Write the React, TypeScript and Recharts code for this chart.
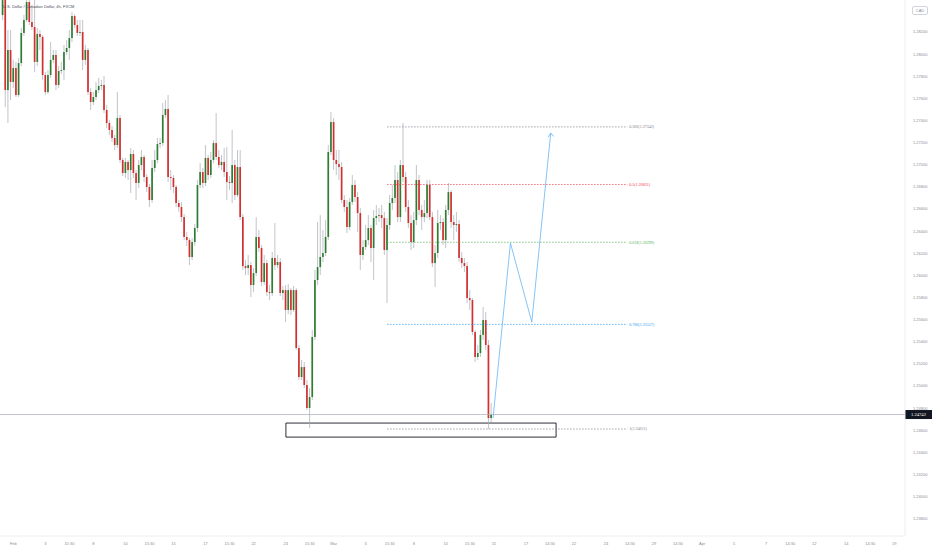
import { ComposedChart, Bar, Line, XAxis, YAxis, ReferenceLine, ReferenceArea } from 'recharts';

// USD/CAD 4h, FXCM, one entry per candle
const firstOpen = 1.28353;
const firstSlot = 1;

const closes = [
  1.28534, 1.27675, 1.28037, 1.27748, 1.27874, 1.27630, 1.27919, 1.28191, 1.28308, 1.28471,
  1.28290, 1.28245, 1.27929, 1.28182, 1.28155, 1.27811, 1.27657, 1.27811, 1.27947, 1.27992,
  1.27721, 1.27847, 1.27856, 1.28019, 1.28055, 1.28145, 1.28344, 1.28263, 1.28191, 1.28200,
  1.27947, 1.28037, 1.27657, 1.27567, 1.27612, 1.27675, 1.27712, 1.27721, 1.27495, 1.27377,
  1.27314, 1.27241, 1.27178, 1.27422, 1.27043, 1.26925, 1.27025, 1.26952, 1.27097, 1.26925,
  1.26835, 1.26997, 1.27070, 1.26889, 1.26799, 1.26681, 1.26970, 1.27043, 1.27187, 1.27196,
  1.27449, 1.27504, 1.26889, 1.26880, 1.26799, 1.26654, 1.26618, 1.26527, 1.26347, 1.26319,
  1.26166, 1.26301, 1.26428, 1.26817, 1.26934, 1.26835, 1.27061, 1.26907, 1.27043, 1.27196,
  1.27070, 1.26997, 1.27025, 1.26934, 1.26844, 1.26835, 1.26997, 1.26726, 1.26979, 1.26527,
  1.26084, 1.26066, 1.26093, 1.25913, 1.26021, 1.26347, 1.26247, 1.25940, 1.26111, 1.25849,
  1.25840, 1.26157, 1.26093, 1.26121, 1.25840, 1.25867, 1.25687, 1.25867, 1.25687, 1.25867,
  1.25343, 1.25081, 1.25171, 1.25009, 1.24801, 1.24900, 1.25443, 1.25958, 1.26075, 1.26166,
  1.26202, 1.26347, 1.27115, 1.27386, 1.27043, 1.27006, 1.26979, 1.26681, 1.26618, 1.26437,
  1.26663, 1.26817, 1.26708, 1.26563, 1.26184, 1.26256, 1.26319, 1.26428, 1.26247, 1.26518,
  1.26536, 1.26545, 1.26518, 1.26229, 1.26455, 1.26654, 1.26699, 1.26862, 1.26527, 1.26997,
  1.26889, 1.26618, 1.26473, 1.26301, 1.26500, 1.26862, 1.26591, 1.26527, 1.26563, 1.26817,
  1.26527, 1.26111, 1.26202, 1.26473, 1.26482, 1.26319, 1.26591, 1.26753, 1.26482, 1.26455,
  1.26464, 1.26157, 1.26111, 1.26084, 1.25795, 1.25777, 1.25488, 1.25262, 1.25298, 1.25461,
  1.25596, 1.25370, 1.24710, 1.24742,
];

const highs = [
  1.28625, 1.28579, 1.28218, 1.28218, 1.27947, 1.27929, 1.27965, 1.28236, 1.28353, 1.28534,
  1.28534, 1.28444, 1.28534, 1.28236, 1.28218, 1.28173, 1.27838, 1.27856, 1.28109, 1.28037,
  1.28037, 1.27892, 1.27929, 1.28082, 1.28127, 1.28218, 1.28381, 1.28362, 1.28308, 1.28308,
  1.28308, 1.28082, 1.28055, 1.27693, 1.27657, 1.27748, 1.27784, 1.27766, 1.27802, 1.27540,
  1.27404, 1.27350, 1.27269, 1.27657, 1.27449, 1.27061, 1.27061, 1.27043, 1.27151, 1.27133,
  1.26952, 1.27043, 1.27133, 1.27088, 1.26916, 1.26826, 1.27043, 1.27133, 1.27241, 1.27241,
  1.27558, 1.27585, 1.27630, 1.26952, 1.26907, 1.26817, 1.26681, 1.26663, 1.26554, 1.26392,
  1.26337, 1.26337, 1.26464, 1.26862, 1.27015, 1.26970, 1.27178, 1.27088, 1.27115, 1.27223,
  1.27467, 1.27133, 1.27088, 1.27151, 1.27160, 1.26898, 1.27314, 1.27043, 1.27133, 1.27133,
  1.26554, 1.26139, 1.26184, 1.26121, 1.26066, 1.26527, 1.26410, 1.26274, 1.26184, 1.26139,
  1.25913, 1.26211, 1.26473, 1.26184, 1.26157, 1.25904, 1.25913, 1.25922, 1.25885, 1.25904,
  1.25885, 1.25370, 1.25235, 1.25217, 1.25054, 1.24981, 1.25506, 1.26048, 1.26482, 1.26545,
  1.26410, 1.26500, 1.27178, 1.27477, 1.27422, 1.27133, 1.27133, 1.27025, 1.26726, 1.26681,
  1.26699, 1.26907, 1.26862, 1.26753, 1.26609, 1.26319, 1.26455, 1.26545, 1.26455, 1.26591,
  1.26636, 1.26609, 1.26636, 1.26573, 1.26518, 1.26726, 1.26817, 1.26997, 1.26934, 1.27043,
  1.27377, 1.26934, 1.26681, 1.26545, 1.26573, 1.26997, 1.26907, 1.26636, 1.26681, 1.26862,
  1.26862, 1.26573, 1.26274, 1.26591, 1.26545, 1.26518, 1.26636, 1.26835, 1.26771, 1.26545,
  1.26573, 1.26500, 1.26211, 1.26157, 1.26121, 1.25867, 1.25795, 1.25506, 1.25370, 1.25506,
  1.25714, 1.25669, 1.25415, 1.24846,
];

const lows = [
  1.28308, 1.27522, 1.27377, 1.27585, 1.27693, 1.27612, 1.27612, 1.27892, 1.28164, 1.28290,
  1.28263, 1.28218, 1.27838, 1.27892, 1.28037, 1.27766, 1.27630, 1.27639, 1.27784, 1.27919,
  1.27675, 1.27693, 1.27820, 1.27766, 1.27992, 1.27947, 1.28109, 1.28236, 1.28164, 1.28164,
  1.27856, 1.27901, 1.27630, 1.27495, 1.27540, 1.27585, 1.27648, 1.27675, 1.27467, 1.27332,
  1.27269, 1.27205, 1.27133, 1.27151, 1.27015, 1.26898, 1.26880, 1.26862, 1.26744, 1.26880,
  1.26681, 1.26789, 1.26952, 1.26844, 1.26753, 1.26618, 1.26654, 1.26934, 1.27015, 1.27151,
  1.27169, 1.27422, 1.26844, 1.26771, 1.26744, 1.26618, 1.26573, 1.26482, 1.26319, 1.26265,
  1.26093, 1.26139, 1.26265, 1.26392, 1.26789, 1.26789, 1.26808, 1.26862, 1.26880, 1.27015,
  1.27043, 1.26970, 1.26952, 1.26889, 1.26681, 1.26771, 1.26654, 1.26681, 1.26708, 1.26500,
  1.26048, 1.26003, 1.26003, 1.25804, 1.25849, 1.25994, 1.26211, 1.25904, 1.25913, 1.25813,
  1.25777, 1.25813, 1.26048, 1.26066, 1.25813, 1.25777, 1.25578, 1.25650, 1.25641, 1.25669,
  1.25325, 1.25054, 1.25054, 1.24981, 1.24783, 1.24620, 1.24873, 1.25415, 1.25913, 1.26003,
  1.26121, 1.26175, 1.26319, 1.27088, 1.26952, 1.26907, 1.26862, 1.26654, 1.26573, 1.26383,
  1.26410, 1.26636, 1.26663, 1.26392, 1.26048, 1.26139, 1.26229, 1.26274, 1.26121, 1.25958,
  1.26455, 1.26482, 1.26428, 1.26184, 1.25750, 1.26410, 1.26591, 1.26654, 1.26482, 1.26482,
  1.26844, 1.26573, 1.26428, 1.26229, 1.26247, 1.26455, 1.26545, 1.26410, 1.26482, 1.26518,
  1.26500, 1.26075, 1.25895, 1.26157, 1.26410, 1.26274, 1.26247, 1.26545, 1.26428, 1.26319,
  1.26392, 1.26121, 1.26066, 1.26030, 1.25750, 1.25687, 1.25461, 1.25217, 1.25235, 1.25262,
  1.25415, 1.25325, 1.24611, 1.24674,
];

const priceTicks = [
  1.238, 1.24, 1.242, 1.244, 1.246, 1.248, 1.25, 1.252, 1.254, 1.256, 1.258, 1.26,
  1.262, 1.264, 1.266, 1.268, 1.27, 1.272, 1.274, 1.276, 1.278, 1.28, 1.282,
];

const timeTickSlots = [
  5, 17, 26, 35, 47, 56, 65, 77, 86, 95, 107, 116, 125, 137, 146, 155, 167,
  176, 185, 197, 206, 215, 227, 236, 245, 254, 263, 275, 287, 296, 305, 317, 326, 335,
];
const timeTickLabels = [
  'Feb', '3', '15:30', '8', '10', '15:30', '15', '17', '15:30', '22', '24', '15:30',
  'Mar', '3', '15:30', '8', '10', '15:30', '15', '17', '14:30', '22', '24', '14:30',
  '29', '14:30', 'Apr', '5', '7', '14:30', '12', '14', '14:30', '19',
];

// fib retracement drawn on the chart
const fibRatios = ['0.382', '0.5', '0.618', '0.786', '1'];
const fibPrices = [1.27342, 1.26821, 1.26299, 1.25557, 1.24611];
const fibColors = ['#787b86', '#f23645', '#4caf50', '#2196f3', '#787b86'];
const fibFrom = 145;
const fibTo = 235;

const lastPrice = 1.24742;

// support box and projected path
const zoneSlots = [107.1, 208.3];
const zonePrices = [1.24538, 1.24665];
const pathSlots = [184.7, 191.2, 199.2, 206.3];
const pathPrices = [1.2471, 1.26292, 1.25578, 1.27287];

const candles = closes.map((close, i) => ({
  x: firstSlot + i,
  open: i === 0 ? firstOpen : closes[i - 1],
  high: highs[i],
  low: lows[i],
  close,
}));

const pathData = pathSlots.map((x, i) => ({ x, y: pathPrices[i] }));

const UP = '#2e7d32';
const DOWN = '#d32f2f';

function Candle(props: any) {
  const { x, y, width, height, payload } = props;
  if (!payload) return null;
  const { open, close, high, low } = payload;
  const top = Math.min(y, y + height);
  const h = Math.abs(height);
  const k = h / (high - low);
  const cx = x + width / 2;
  const yo = top + (high - open) * k;
  const yc = top + (high - close) * k;
  const up = close >= open;
  const bodyTop = Math.min(yo, yc);
  const bodyH = Math.max(Math.abs(yo - yc), 0.8);
  return (
    <g>
      <line x1={cx} x2={cx} y1={top} y2={top + h} stroke="#a8abb2" strokeWidth={0.7} />
      <rect x={x} y={bodyTop} width={width} height={bodyH} fill={up ? UP : DOWN} />
    </g>
  );
}

function PriceTag(props: any) {
  const { viewBox } = props;
  if (!viewBox) return null;
  const { x, y, width } = viewBox;
  return (
    <g>
      <rect x={x + width} y={y - 4.5} width={27} height={9} fill="#131722" />
      <text x={x + width + 13.5} y={y + 1.7} textAnchor="middle" fontSize={4.6} fill="#ffffff">
        {lastPrice.toFixed(5)}
      </text>
    </g>
  );
}

function ArrowDot(props: any) {
  const { cx, cy, index } = props;
  if (index !== pathSlots.length - 1) return <g key={`p${index}`} />;
  return (
    <polyline
      key="head"
      points={`${cx - 2.6},${cy + 4.2} ${cx},${cy} ${cx + 3},${cy + 3.6}`}
      fill="none"
      stroke="#64b5f6"
      strokeWidth={0.8}
    />
  );
}

export default function App() {
  const tickStyle = { fill: '#8a8d96', fontSize: 4, fontFamily: 'Liberation Sans, Arial, sans-serif' };
  return (
    <div style={{ position: 'absolute', left: 0, top: 0, width: 932, height: 550, background: '#ffffff' }}>
      <ComposedChart
        width={932}
        height={550}
        data={candles}
        margin={{ top: 0, right: 0, bottom: 0, left: 0 }}
      >
        <XAxis
          dataKey="x"
          type="number"
          domain={[0, 339]}
          allowDataOverflow
          ticks={timeTickSlots}
          interval={0}
          tickFormatter={(_v: number, i: number) => timeTickLabels[i]}
          tick={tickStyle}
          tickLine={false}
          tickSize={4}
          axisLine={{ stroke: '#eceef2' }}
          height={14}
        />
        <YAxis
          orientation="right"
          type="number"
          domain={[1.23644, 1.28489]}
          allowDataOverflow
          ticks={priceTicks}
          interval={0}
          tickFormatter={(v: number) => v.toFixed(5)}
          tick={tickStyle}
          tickLine={false}
          axisLine={{ stroke: '#eceef2' }}
          width={27}
        />
        <ReferenceLine y={lastPrice} stroke="#b2b5be" strokeWidth={0.8} label={<PriceTag />} />
        <ReferenceArea
          x1={zoneSlots[0]}
          x2={zoneSlots[1]}
          y1={zonePrices[0]}
          y2={zonePrices[1]}
          fill="#ffffff"
          fillOpacity={1}
          stroke="#131722"
          strokeWidth={0.9}
        />
        {fibPrices.map((p, i) => (
          <ReferenceLine
            key={fibRatios[i]}
            segment={[
              { x: fibFrom, y: p },
              { x: fibTo, y: p },
            ]}
            stroke={fibColors[i]}
            strokeWidth={0.7}
            strokeDasharray="1.5 1.5"
            label={{
              value: `${fibRatios[i]}(${p.toFixed(5)})`,
              position: 'right',
              offset: 2,
              fontSize: 4,
              fill: fibColors[i],
            }}
          />
        ))}
        <Bar
          dataKey={(d: any) => [d.low, d.high]}
          barSize={2}
          shape={<Candle />}
          isAnimationActive={false}
        />
        <Line
          data={pathData}
          dataKey="y"
          type="linear"
          stroke="#64b5f6"
          strokeWidth={0.8}
          dot={(p: any) => <ArrowDot key={`a${p.index}`} {...p} />}
          activeDot={false}
          isAnimationActive={false}
        />
      </ComposedChart>
      <div
        style={{
          position: 'absolute',
          left: 3,
          top: 4,
          fontSize: 4,
          color: '#4a4d57',
          fontFamily: 'Liberation Sans, Arial, sans-serif',
          whiteSpace: 'nowrap',
        }}
      >
        U.S. Dollar / Canadian Dollar, 4h, FXCM
      </div>
      <div
        style={{
          position: 'absolute',
          left: 912,
          top: 6,
          width: 14,
          height: 7,
          border: '0.5px solid #d1d4dc',
          borderRadius: 2,
          fontSize: 4,
          lineHeight: '7px',
          textAlign: 'center',
          color: '#8a8d96',
          fontFamily: 'Liberation Sans, Arial, sans-serif',
        }}
      >
        CAD
      </div>
    </div>
  );
}
